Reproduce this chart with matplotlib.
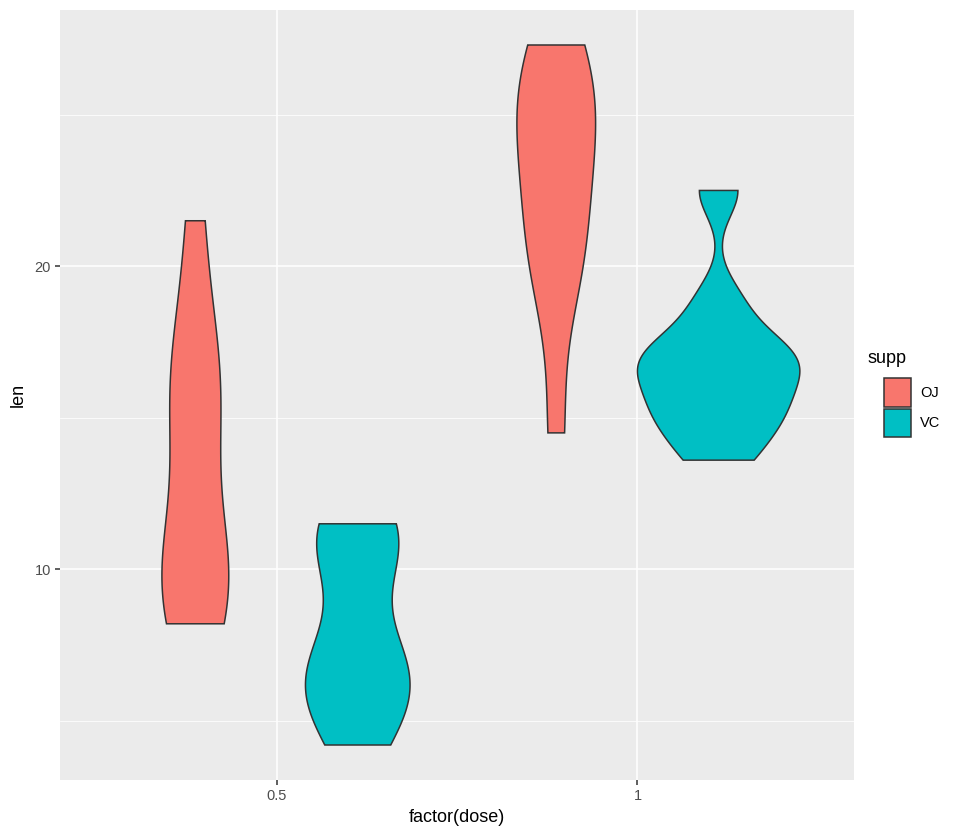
import numpy as np
import matplotlib
matplotlib.use("Agg")
import matplotlib.pyplot as plt
from matplotlib.patches import Rectangle, Polygon

plt.rcParams['font.family'] = ['Liberation Sans', 'DejaVu Sans']

doses = ["0.5", "1"]
supps = ["OJ", "VC"]
colors = {"OJ": "#F8766D", "VC": "#00BFC4"}
len_OJ_05 = [15.2, 21.5, 17.6, 9.7, 14.5, 10.0, 8.2, 9.4, 16.5, 9.7]
len_OJ_1 = [19.7, 23.3, 23.6, 26.4, 20.0, 25.2, 25.8, 21.2, 14.5, 27.3]
len_VC_05 = [4.2, 11.5, 7.3, 5.8, 6.4, 10.0, 11.2, 11.2, 5.2, 7.0]
len_VC_1 = [16.5, 16.5, 15.2, 17.3, 22.5, 17.3, 13.6, 14.5, 18.8, 15.5]
data = {("0.5", "OJ"): len_OJ_05, ("1", "OJ"): len_OJ_1,
        ("0.5", "VC"): len_VC_05, ("1", "VC"): len_VC_1}

def bw_nrd0(x):
    x = np.asarray(x)
    sd = np.std(x, ddof=1)
    q75, q25 = np.percentile(x, [75, 25])
    lo = min(sd, (q75 - q25) / 1.34)
    return 0.9 * lo * len(x) ** (-0.2)

def kde(x):
    x = np.asarray(x)
    bw = bw_nrd0(x)
    ys = np.linspace(x.min(), x.max(), 512)
    d = np.exp(-0.5 * ((ys[:, None] - x[None, :]) / bw) ** 2).sum(1) / (len(x) * bw * np.sqrt(2 * np.pi))
    return ys, d

dens = {k: kde(v) for k, v in data.items()}
dmax = max(d.max() for _, d in dens.values())

W, H = 957, 833
fig = plt.figure(figsize=(W / 100, H / 100), dpi=100)
L, R, T, B = 60, 854, 10, 780
ax = fig.add_axes([L / W, 1 - B / H, (R - L) / W, (B - T) / H])
ax.set_facecolor("#EBEBEB")
for s in ax.spines.values():
    s.set_visible(False)

ax.set_xlim(0.4, 2.6)
ax.set_ylim(3.045, 28.455)
for y in [5, 15, 25]:
    ax.axhline(y, color="white", lw=0.55, zorder=0)
for y in [10, 20]:
    ax.axhline(y, color="white", lw=1.1, zorder=0)
for x in [1, 2]:
    ax.axvline(x, color="white", lw=1.1, zorder=0)

for i, dose in enumerate(doses):
    for j, s in enumerate(supps):
        ys, d = dens[(dose, s)]
        xc = i + 1 + (-0.225 if s == "OJ" else 0.225)
        w = d / dmax * 0.225
        xs = np.concatenate([xc - w, (xc + w)[::-1]])
        yy = np.concatenate([ys, ys[::-1]])
        ax.add_patch(Polygon(np.column_stack([xs, yy]), closed=True,
                             facecolor=colors[s], edgecolor="#333333", lw=1.1, zorder=2))

ax.set_xticks([1, 2])
ax.set_xticklabels(doses)
ax.set_yticks([10, 20])
ax.set_yticklabels(["10", "20"])
ax.tick_params(axis="both", colors="#333333", length=3.5, width=1.1, labelsize=10.5, labelcolor="#4D4D4D", pad=3)
ax.set_xlabel("factor(dose)", fontsize=13, color="black", labelpad=4)
ax.set_ylabel("len", fontsize=13, color="black", labelpad=6)

# legend
lax = fig.add_axes([0, 0, 1, 1], facecolor="none")
lax.set_xlim(0, W)
lax.set_ylim(H, 0)
lax.axis("off")
lax.text(868, 358, "supp", fontsize=13, va="center", ha="left")
for k, s in enumerate(supps):
    y0 = 378 + k * 30.5
    lax.add_patch(Rectangle((883.5, y0), 27, 28.5, facecolor=colors[s], edgecolor="#333333", lw=1.1))
    lax.text(920, y0 + 14.5, s, fontsize=10.5, va="center", ha="left")

fig.savefig("out.png", dpi=100)
